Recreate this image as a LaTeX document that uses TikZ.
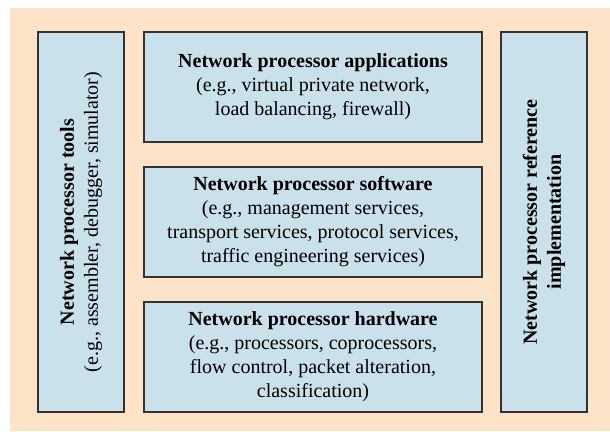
\documentclass[tikz,border=0pt]{standalone}
\usepackage{fontspec}
\setmainfont{Liberation Serif}
\definecolor{peach}{HTML}{FDE3C8}
\definecolor{paleblue}{HTML}{CAE1EC}
\begin{document}
\begin{tikzpicture}[x=1pt,y=-1pt,
    layer/.style={draw=black!80, line width=1.1pt, fill=paleblue,
      align=center, inner sep=0pt,
      font=\fontsize{20}{24}\selectfont},
    wide/.style={layer, minimum width=338pt, minimum height=110pt},
    tall/.style={layer, rotate=90, minimum width=380pt, minimum height=86pt}]
  % background
  \fill[peach] (10,8) rectangle (610,431);
  \useasboundingbox (0,0) rectangle (610,431);
  % side columns
  \node[tall] (tools) at (81,222)
    {\textbf{Network processor tools}\\(e.g., assembler, debugger, simulator)};
  \node[tall] (refimpl) at (544,222)
    {\textbf{Network processor reference}\\\textbf{implementation}};
  % stacked layers
  \node[wide] (apps) at (313,87)
    {\textbf{Network processor applications}\\(e.g., virtual private network,\\load balancing, firewall)};
  \node[wide] (soft) at (313,222)
    {\textbf{Network processor software}\\(e.g., management services,\\transport services, protocol services,\\traffic engineering services)};
  \node[wide] (hard) at (313,357)
    {\textbf{Network processor hardware}\\(e.g., processors, coprocessors,\\flow control, packet alteration,\\classification)};
\end{tikzpicture}
\end{document}
